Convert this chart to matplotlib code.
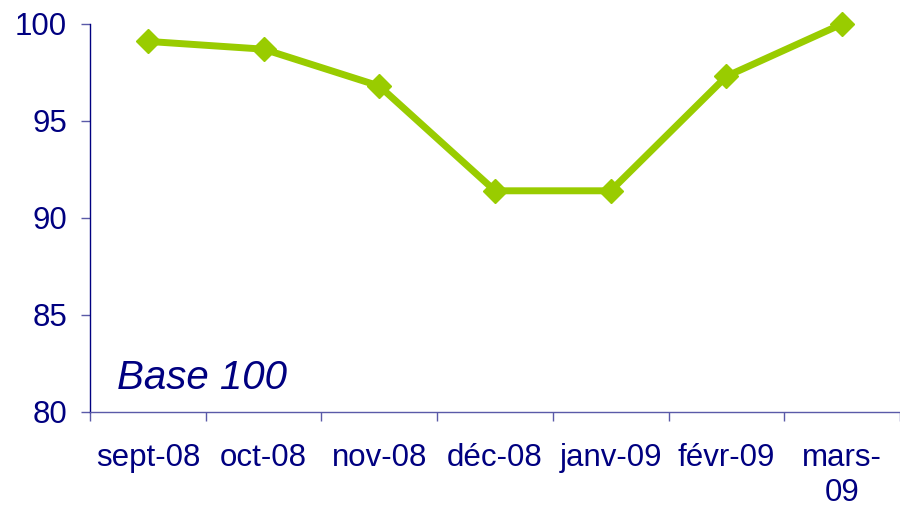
import numpy as np
import matplotlib
matplotlib.use('Agg')
import matplotlib.pyplot as plt

months = ['sept-08', 'oct-08', 'nov-08', 'déc-08', 'janv-09', 'févr-09', 'mars-\n09']
values = [99.1, 98.7, 96.8, 91.4, 91.4, 97.3, 100.0]
y_ticks = [80, 85, 90, 95, 100]

navy = '#000080'
green = '#99CC00'

plt.rcParams['font.family'] = ['Liberation Sans', 'DejaVu Sans']

fig = plt.figure(figsize=(9, 5.16), dpi=100)
ax = fig.add_axes([0.1, 0.2016, 0.9, 0.752])

x = np.arange(len(months))
ax.plot(x, values, color=green, lw=5, marker='D', markersize=12.5,
        clip_on=False, zorder=3)

ax.set_xlim(-0.5, len(months) - 0.5)
ax.set_ylim(80, 100)
ax.set_yticks(y_ticks)
ax.set_xticks(x)
ax.set_xticklabels(months, fontsize=22.5, color=navy, linespacing=1.25)
ax.set_xticks(np.arange(-0.5, len(months), 1.0), minor=True)
ax.tick_params(axis='x', which='major', length=0, pad=22)
ax.tick_params(axis='x', which='minor', length=6.5, width=1, color='#5a5aa8', direction='out')
ax.tick_params(axis='y', length=6.5, width=1, color='#5a5aa8', direction='out',
               labelsize=22.5, labelcolor=navy, pad=10)

for side in ['top', 'right']:
    ax.spines[side].set_visible(False)
ax.spines['left'].set_color(navy)
ax.spines['bottom'].set_color('#5a5aa8')
ax.spines['left'].set_linewidth(1)
ax.spines['bottom'].set_linewidth(1)

ax.text(-0.27, 81.2, 'Base 100', fontsize=29, style='italic', color=navy)

fig.savefig('out.png', dpi=100)
